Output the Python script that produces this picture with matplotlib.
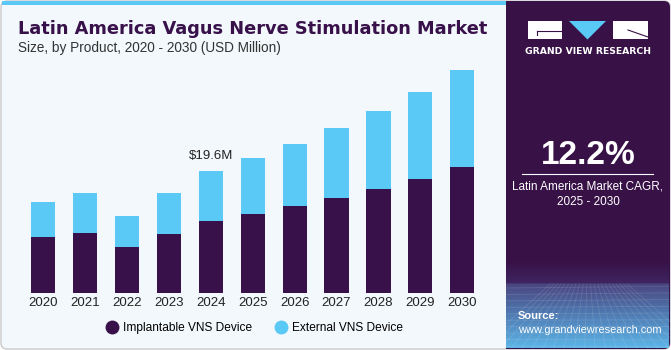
import matplotlib
matplotlib.use("Agg")
import matplotlib.pyplot as plt
import numpy as np
from matplotlib.patches import FancyBboxPatch, Rectangle, Polygon
from matplotlib.lines import Line2D
from matplotlib.colors import LinearSegmentedColormap

years = ["2020", "2021", "2022", "2023", "2024", "2025", "2026", "2027", "2028", "2029", "2030"]
implantable = [8.97, 9.62, 7.42, 9.46, 11.54, 12.71, 14.04, 15.32, 16.76, 18.27, 20.19]
external = [5.61, 6.46, 4.92, 6.62, 8.06, 8.97, 9.84, 11.17, 12.50, 14.04, 15.64]
series_names = ["Implantable VNS Device", "External VNS Device"]
annot_year = "2024"
annot_text = "$19.6M"
title = "Latin America Vagus Nerve Stimulation Market"
subtitle = "Size, by Product, 2020 - 2030 (USD Million)"
cagr = "12.2%"
cagr_text = "Latin America Market CAGR,\n2025 - 2030"

DARK = "#38104a"
BLUE = "#5bc9f6"
BG = "#f3f8fc"
PANEL = "#381147"

W, H = 671, 350
fig = plt.figure(figsize=(W / 100, H / 100), dpi=100)
fig.patch.set_facecolor("white")

# background axes in pixel coordinates
bg = fig.add_axes([0, 0, 1, 1], zorder=0)
bg.set_xlim(0, W)
bg.set_ylim(H, 0)
bg.axis("off")

bg.add_patch(FancyBboxPatch((1, 1), W - 2, H - 2, boxstyle="round,pad=0,rounding_size=6",
                            facecolor=BG, edgecolor="#c9c9c9", lw=1.0))
bg.add_patch(Rectangle((2, 1), 504, 4, facecolor=BLUE, edgecolor="none"))
bg.add_patch(FancyBboxPatch((506, 1), W - 507, H - 2, boxstyle="round,pad=0,rounding_size=6",
                            facecolor=PANEL, edgecolor="none"))
bg.add_patch(Rectangle((506, 1), 10, H - 2, facecolor=PANEL, edgecolor="none"))

# gradient at bottom of the panel
cmap = LinearSegmentedColormap.from_list(
    "g", [(0, PANEL), (0.26, "#3f2560"), (0.27, "#4a4580"), (0.6, "#4f78b0"), (1, "#5cb4e6")])
grad = np.linspace(0, 1, 200).reshape(-1, 1)
bg.imshow(grad, extent=[506, W - 2, H - 2, 260], aspect="auto", cmap=cmap,
          origin="upper", zorder=1)
# faint grid texture
for yy in np.linspace(288, 346, 10):
    bg.plot([506, W - 2], [yy, yy + 2 * np.sin(yy)], color="white", alpha=0.12, lw=0.6, zorder=2)
for xx in np.linspace(480, 700, 22):
    bg.plot([588 + (xx - 588) * 0.35, xx], [284, 348], color="white", alpha=0.12, lw=0.6, zorder=2)

# logo
bg.add_patch(Rectangle((528, 21), 34, 18, facecolor="white", edgecolor="none", zorder=3))
bg.plot([537, 562], [30.5, 30.5], color=PANEL, lw=0.8, zorder=4)
bg.plot([537, 537], [30.5, 35], color=PANEL, lw=0.8, zorder=4)
bg.add_patch(Polygon([[569, 21], [606, 21], [587.5, 39.5]], closed=True,
                     facecolor=BLUE, edgecolor="none", zorder=3))
bg.add_patch(Rectangle((613, 21), 35, 18, facecolor="white", edgecolor="none", zorder=3))
bg.plot([628, 648], [30, 37], color=PANEL, lw=0.8, zorder=4)
bg.text(588, 52, "GRAND VIEW RESEARCH", color="white", fontsize=6.7, fontweight="bold",
        ha="center", va="center", family="DejaVu Sans", zorder=4)

bg.text(588, 155, cagr, color="white", fontsize=24, fontweight="bold",
        ha="center", va="center", family="Liberation Sans", zorder=4)
bg.plot([522, 653], [173.5, 173.5], color="white", lw=0.8, zorder=4)
bg.text(588, 194, cagr_text, color="white", fontsize=8.5, ha="center", va="center",
        family="Liberation Sans", linespacing=1.35, zorder=4)
bg.text(518, 316, "Source:", color="white", fontsize=8, fontweight="bold",
        ha="left", va="center", family="Liberation Sans", zorder=4)
bg.text(518, 330, "www.grandviewresearch.com", color="white", fontsize=7.9,
        ha="left", va="center", family="Liberation Sans", zorder=4)

# titles
bg.text(18, 29, title, color=DARK, fontsize=12.8, fontweight="bold", ha="left",
        va="center", family="DejaVu Sans", zorder=4)
bg.text(18, 48, subtitle, color="#333333", fontsize=9.8, ha="left", va="center",
        family="Liberation Sans", zorder=4)

# chart axes
scale = 19.6 / 122.3
ax = fig.add_axes([22 / W, 1 - 293.3 / H, 461.3 / W, 233.3 / H], zorder=2)
ax.patch.set_alpha(0)
x = np.arange(len(years))
ax.bar(x, implantable, width=0.575, color=DARK, label=series_names[0])
ax.bar(x, external, width=0.575, bottom=implantable, color=BLUE, label=series_names[1])
ax.set_xlim(-0.5, len(years) - 0.5)
ax.set_ylim(0, 233.3 * scale)
ax.set_xticks(x)
ax.set_xticklabels(years, fontsize=9.5, family="Liberation Sans", color="#222222")
ax.tick_params(axis="x", length=0, pad=3)
ax.set_yticks([])
for s in ax.spines.values():
    s.set_visible(False)

i = years.index(annot_year)
ax.annotate(annot_text, (x[i], implantable[i] + external[i]), xytext=(0, 10.5),
            textcoords="offset points", ha="center", va="center", fontsize=9.5,
            family="Liberation Sans", color="#222222")

handles = [Line2D([], [], marker="o", ls="none", markersize=9, color=DARK),
           Line2D([], [], marker="o", ls="none", markersize=9, color=BLUE)]
fig.legend(handles, series_names, loc="center", bbox_to_anchor=(254 / W, 1 - 328 / H),
           ncol=2, frameon=False, prop={"family": "Liberation Sans", "size": 8.6},
           handletextpad=0.3, columnspacing=1.8, handlelength=1.2)

fig.savefig("out.png", dpi=100, facecolor=fig.get_facecolor())
